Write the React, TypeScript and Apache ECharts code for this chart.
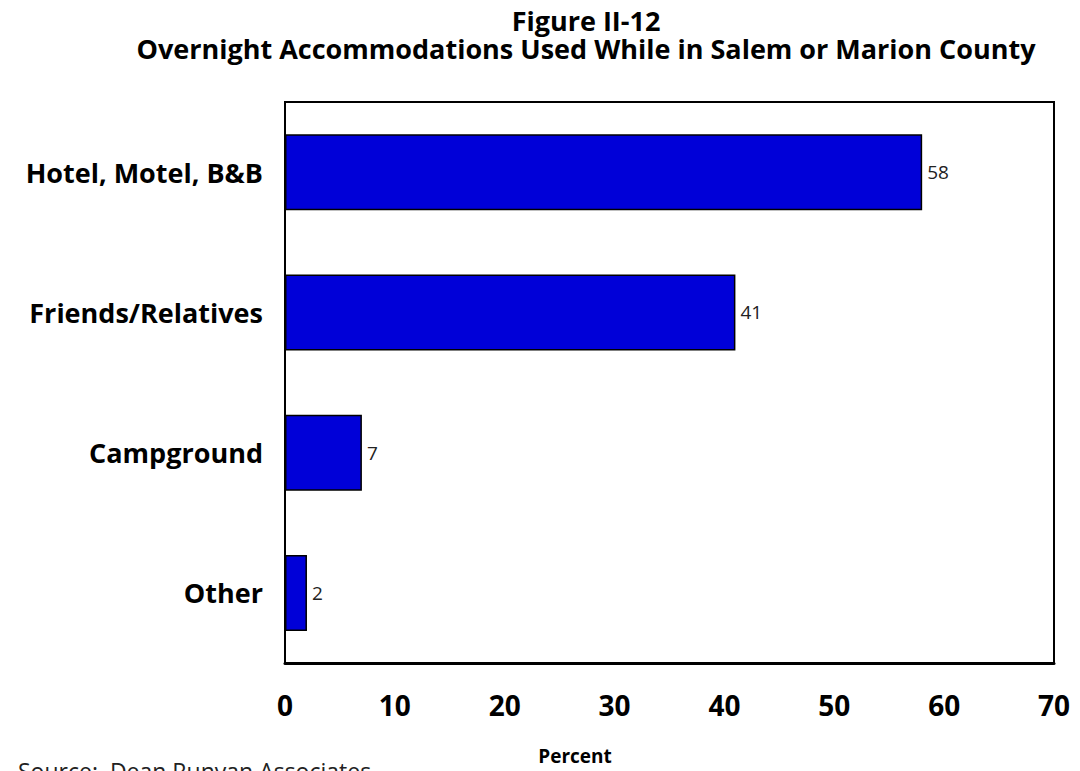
import React, { useEffect, useRef } from "react";
import * as echarts from "echarts";

const categories = ["Hotel, Motel, B&B", "Friends/Relatives", "Campground", "Other"];
const values = [58, 41, 7, 2];
const xTicks = { min: 0, max: 70, interval: 10 };
const titleLine1 = "Figure II-12";
const titleLine2 = "Overnight Accommodations Used While in Salem or Marion County";
const xAxisName = "Percent";
const sourceText = "Source:  Dean Runyan Associates";

export default function App() {
  const ref = useRef<HTMLDivElement>(null);
  useEffect(() => {
    document.body.style.margin = "0";
    const chart = echarts.init(ref.current!, null, { renderer: "svg" });
    chart.setOption({
      animation: false,
      backgroundColor: "#ffffff",
      graphic: [
        {
          type: "text",
          x: 586,
          y: 34,
          style: {
            text: titleLine1 + "\n" + titleLine2,
            font: "bold 27px 'Open Sans'",
            fill: "#000",
            align: "center",
            verticalAlign: "middle",
            lineHeight: 28,
          },
        },
        {
          type: "text",
          x: 18,
          y: 759,
          style: { text: sourceText, font: "23px 'Open Sans'", fill: "#222" },
        },
        {
          type: "text",
          x: 575,
          y: 746,
          style: { text: xAxisName, font: "bold 19px 'Open Sans'", fill: "#000", align: "center" },
        },
      ],
      grid: {
        left: 285,
        right: 26,
        top: 102,
        bottom: 108,
        show: true,
        borderColor: "#000",
        borderWidth: 2,
        backgroundColor: "#fff",
      },
      xAxis: {
        type: "value",
        min: xTicks.min,
        max: xTicks.max,
        interval: xTicks.interval,
        axisLine: { show: true, lineStyle: { color: "#000", width: 3 } },
        axisTick: { show: false },
        splitLine: { show: false },
        axisLabel: {
          color: "#000",
          fontFamily: "'Open Sans'",
          fontWeight: "bold",
          fontSize: 28,
          margin: 28,
        },
      },
      yAxis: {
        type: "category",
        data: categories,
        inverse: true,
        axisLine: { show: true, lineStyle: { color: "#000", width: 2 } },
        axisTick: { show: false },
        axisLabel: {
          color: "#000",
          fontFamily: "'Open Sans'",
          fontWeight: "bold",
          fontSize: 27,
          margin: 22,
        },
      },
      series: [
        {
          type: "bar",
          data: values,
          barWidth: 76,
          itemStyle: { color: "#0000d8", borderColor: "#000", borderWidth: 1.5 },
          label: {
            show: true,
            position: "right",
            distance: 5,
            color: "#222",
            fontFamily: "'Open Sans'",
            fontSize: 19,
          },
        },
      ],
    });
    return () => chart.dispose();
  }, []);
  return <div ref={ref} style={{ width: 1080, height: 771 }} />;
}
